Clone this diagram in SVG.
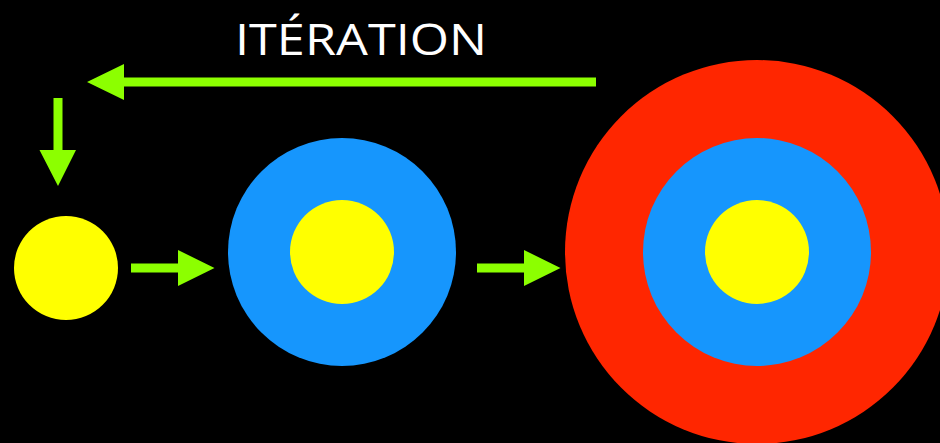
<svg xmlns="http://www.w3.org/2000/svg" width="940" height="443" viewBox="0 0 940 443">
<style>
.yellow{fill:#FFFF00}
.blue{fill:#1696FD}
.red{fill:#FF2600}
.arrow{fill:#8CFF00}
.title{fill:#FFFFFF;font-family:"Comic Sans MS","Open Sans","Liberation Sans",sans-serif;font-size:44px}
</style>
<rect width="940" height="443" fill="#000000"/>
<text class="title" x="361" y="55" text-anchor="middle" textLength="252" lengthAdjust="spacingAndGlyphs">ITÉRATION</text>
<g id="node-step1">
<circle class="yellow" cx="66" cy="268" r="52"/>
</g>
<g id="node-step2">
<circle class="blue" cx="342" cy="252" r="114"/>
<circle class="yellow" cx="342" cy="252" r="52"/>
</g>
<g id="node-step3">
<circle class="red" cx="757" cy="252" r="192"/>
<circle class="blue" cx="757" cy="252" r="114"/>
<circle class="yellow" cx="757" cy="252" r="52"/>
</g>
<g id="connectors">
<polygon class="arrow" points="596,77.5 124,77.5 124,64 87,82 124,100 124,86.5 596,86.5"/>
<polygon class="arrow" points="53.5,98 53.5,150 39.5,150 58,186 76,150 62.5,150 62.5,98"/>
<polygon class="arrow" points="131,263.5 178,263.5 178,250 214.5,268 178,286 178,272.5 131,272.5"/>
<polygon class="arrow" points="477,263.5 524,263.5 524,250 560.5,268 524,286 524,272.5 477,272.5"/>
</g>
</svg>
